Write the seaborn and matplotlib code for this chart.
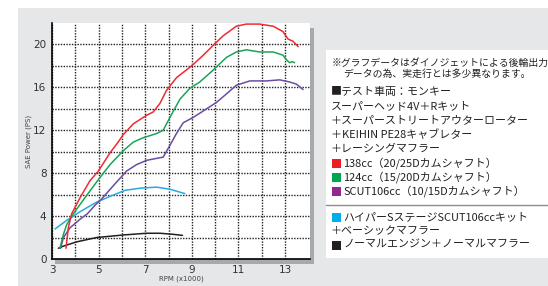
import matplotlib
matplotlib.use('Agg')
import matplotlib.pyplot as plt
from matplotlib.patches import Rectangle
import seaborn as sns
import pandas as pd

# ダイノジェット後輪出力 (RPM x1000, PS)
rpm_138 = [3.6, 3.7, 3.84, 4.2, 4.63, 4.99, 5.49, 5.84, 6.06, 6.49, 7.06, 7.34, 7.63, 7.91,
           8.34, 8.99, 9.49, 9.91, 10.34, 10.91, 11.34, 11.91, 12.49, 12.91, 13.13, 13.34, 13.56]
ps_138 = [1.0, 2.9, 4.2, 5.7, 7.3, 8.2, 9.9, 10.9, 11.6, 12.6, 13.4, 13.7, 14.5, 15.7,
          16.9, 18.0, 19.0, 19.9, 20.8, 21.7, 21.9, 21.9, 21.7, 21.2, 20.5, 20.3, 19.8]

rpm_124 = [3.34, 3.49, 3.63, 3.91, 4.41, 4.99, 5.49, 6.06, 6.49, 6.91, 7.49, 7.77, 8.06, 8.49,
           8.91, 9.34, 9.91, 10.49, 10.91, 11.34, 11.91, 12.49, 12.91, 13.09, 13.2, 13.31, 13.41]
ps_124 = [1.0, 2.3, 3.2, 4.2, 5.7, 7.4, 8.8, 10.1, 10.9, 11.3, 11.7, 12.0, 13.2, 14.9,
          15.9, 16.5, 17.6, 18.8, 19.3, 19.5, 19.3, 19.3, 19.0, 18.5, 18.3, 18.4, 18.3]

rpm_106 = [3.37, 3.49, 3.77, 4.2, 4.51, 4.84, 5.13, 5.7, 6.2, 6.63, 7.06, 7.77, 8.06, 8.34,
           8.63, 9.06, 9.49, 10.06, 10.49, 10.91, 11.49, 12.2, 12.77, 13.2, 13.49, 13.77]
ps_106 = [1.0, 2.0, 2.9, 3.7, 4.2, 5.0, 5.6, 7.0, 8.2, 8.8, 9.2, 9.5, 10.6, 11.7,
          12.7, 13.2, 13.8, 14.6, 15.4, 16.2, 16.6, 16.6, 16.7, 16.5, 16.3, 15.8]

rpm_hyper = [3.13, 3.63, 4.2, 4.91, 5.56, 6.13, 6.77, 7.49, 8.06, 8.7]
ps_hyper = [2.8, 3.6, 4.4, 5.3, 5.9, 6.4, 6.6, 6.7, 6.5, 6.1]

rpm_normal = [3.27, 3.49, 4.06, 4.91, 6.06, 7.06, 7.63, 8.2, 8.6]
ps_normal = [1.0, 1.2, 1.6, 2.0, 2.24, 2.4, 2.4, 2.3, 2.2]

x_ticks = list(range(3, 14))
x_tick_labels = [str(v) if v % 2 == 1 else '' for v in x_ticks]
y_ticks = list(range(0, 22, 2))
y_tick_labels = [str(v) if v % 4 == 0 else '' for v in y_ticks]

note_lines = ['※グラフデータはダイノジェットによる後輪出力', 'データの為、実走行とは多少異なります。']
spec_lines = ['■テスト車両：モンキー', 'スーパーヘッド4V＋Rキット', '＋スーパーストリートアウターローター',
              '＋KEIHIN PE28キャブレター', '＋レーシングマフラー']
key_lines = [('#ed1c24', '138cc（20/25Dカムシャフト）'),
             ('#00a651', '124cc（15/20Dカムシャフト）'),
             ('#92278f', 'SCUT106cc（10/15Dカムシャフト）')]
lower_lines = [('#00aeef', 'ハイパーSステージSCUT106ccキット'),
               (None, '＋ベーシックマフラー'),
               ('#231f20', 'ノーマルエンジン＋ノーマルマフラー')]

sns.set_style('white')
plt.rcParams['font.family'] = ['DejaVu Sans', 'Noto Sans CJK JP']
JP = ['Noto Sans CJK JP', 'DejaVu Sans']

W, H = 548, 286
fig = plt.figure(figsize=(W / 100, H / 100), dpi=100, facecolor='white')

def box(x0, y0, x1, y1, color, z=-10):
    # pixel coords (top-left origin) -> figure patch
    fig.patches.append(Rectangle((x0 / W, 1 - y1 / H), (x1 - x0) / W, (y1 - y0) / H,
                                 transform=fig.transFigure, facecolor=color,
                                 edgecolor='none', zorder=z))

box(18, 8, W, H, '#e6e7e8')
box(310, 28, 314, 264, '#a7a9ac')
box(55, 259, 314, 264, '#a7a9ac')
box(326, 50, W, 258, 'white')

ax = fig.add_axes([52 / W, 1 - 259 / H, 258 / W, 236 / H])
ax.set_facecolor('white')

series = [
    (rpm_normal, ps_normal, '#231f20'),
    (rpm_hyper, ps_hyper, '#27aae1'),
    (rpm_106, ps_106, '#6a4ca0'),
    (rpm_124, ps_124, '#1ba358'),
    (rpm_138, ps_138, '#ee2b30'),
]
for xs, ys, c in series:
    df = pd.DataFrame({'rpm': xs, 'ps': ys})
    sns.lineplot(data=df, x='rpm', y='ps', ax=ax, color=c, lw=1.1, estimator=None, sort=False)

ax.set_xlim(3, 14.07)
ax.set_ylim(0, 22)
ax.set_xticks(x_ticks)
ax.set_xticklabels(x_tick_labels)
ax.set_yticks(y_ticks)
ax.set_yticklabels(y_tick_labels)
ax.tick_params(axis='both', labelsize=7.5, labelcolor='#333333', length=2, width=0.6,
               color='black', pad=2)
ax.set_axisbelow(True)
ax.xaxis.grid(True, linestyle=(0, (1.0, 1.0)), color='#222222', lw=1.0)
ax.yaxis.grid(True, linestyle=(0, (1.0, 1.0)), color='#222222', lw=1.0)
for s in ['top', 'right']:
    ax.spines[s].set_visible(False)
for s in ['left', 'bottom']:
    ax.spines[s].set_color('black')
    ax.spines[s].set_linewidth(1.2)

ax.set_xlabel('RPM (x1000)', fontsize=5, color='#444444', labelpad=1)
ax.set_ylabel('SAE Power (PS)', fontsize=5, color='#444444', labelpad=0.5)

def fy(py):
    return 1 - py / H

fs = 7.9
fig.text(332 / W, fy(62.5), note_lines[0], family=JP, fontsize=7.1, va='center', color='#231f20')
fig.text(343 / W, fy(74), note_lines[1], family=JP, fontsize=7.1, va='center', color='#231f20')

ys_spec = [92.5, 106.5, 120.5, 134.5, 148.5]
for py, line in zip(ys_spec, spec_lines):
    fig.text(331 / W, fy(py), line, family=JP, fontsize=fs, va='center', color='#231f20')

def swatch(py, c):
    box(332, py - 4.5, 341, py + 4.5, c, z=5)

ys_key = [163, 177, 191]
for py, (c, line) in zip(ys_key, key_lines):
    swatch(py, c)
    fig.text(343 / W, fy(py), line, family=JP, fontsize=fs, va='center', color='#231f20')

fig.add_artist(plt.Line2D([326 / W, 1], [fy(204.5), fy(204.5)], transform=fig.transFigure,
                          color='#8a8c8e', lw=1))

ys_lower = [217, 231, 245]
for py, (c, line) in zip(ys_lower, lower_lines):
    if c is None:
        fig.text(331 / W, fy(py), line, family=JP, fontsize=fs, va='center', color='#231f20')
    else:
        swatch(py, c)
        fig.text(343 / W, fy(py), line, family=JP, fontsize=fs, va='center', color='#231f20')

fig.savefig('out.png', dpi=100, facecolor='white')
